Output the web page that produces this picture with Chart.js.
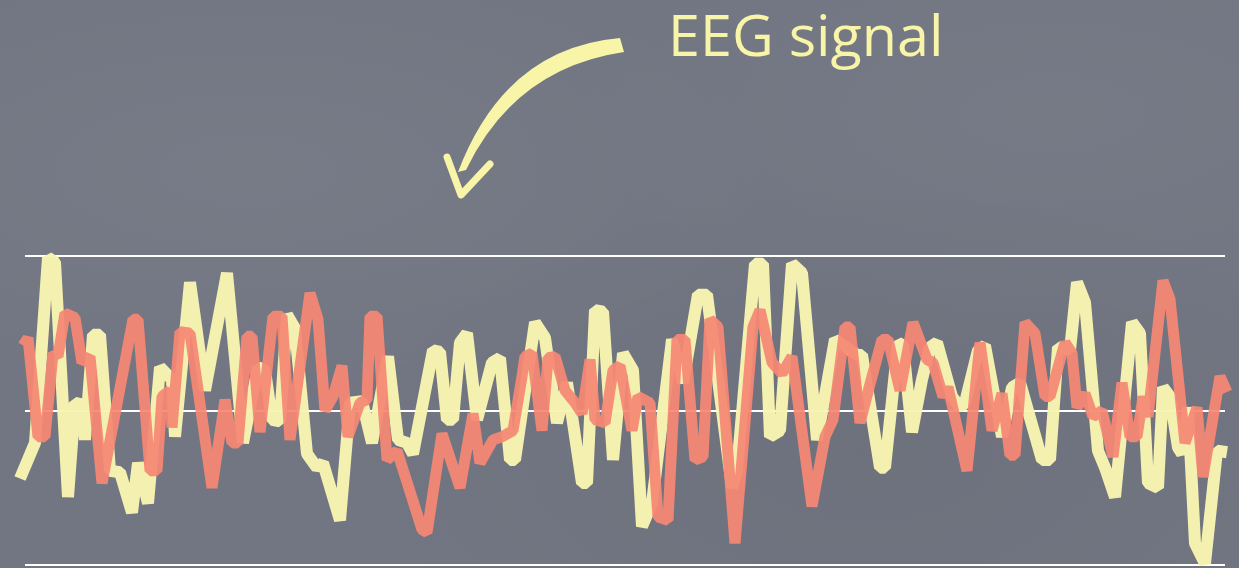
<!DOCTYPE html>
<html>
<head>
<meta charset="utf-8">
<script src="https://cdn.jsdelivr.net/npm/chart.js@4.4.1/dist/chart.umd.min.js"></script>
<style>
  html, body { margin:0; padding:0; width:1239px; height:568px; overflow:hidden; }
  body {
    background-color:#727682;
    background-image:
      radial-gradient(ellipse at 20% 30%, rgba(255,255,255,0.04), rgba(255,255,255,0) 40%),
      radial-gradient(ellipse at 70% 80%, rgba(0,0,0,0.04), rgba(0,0,0,0) 45%),
      radial-gradient(ellipse at 85% 20%, rgba(255,255,255,0.03), rgba(255,255,255,0) 35%);
    position:relative;
  }
  #wrap { position:absolute; left:0; top:0; width:1239px; height:568px; }
  #title { position:absolute; left:668px; top:6px; font-family:'Open Sans', sans-serif; font-size:57.5px; line-height:1; color:#f8f4a8; white-space:nowrap; }
  #arrow { position:absolute; left:0; top:0; }
</style>
</head>
<body>
<div id="wrap"><canvas id="c" width="1239" height="568"></canvas></div>
<svg id="arrow" width="1239" height="568" viewBox="0 0 1239 568">
  <path d="M 620 38 Q 505 48 458 172 L 466 170 Q 515 68 624 52 Z" fill="#f8f4a8"/>
  <polyline points="447,157 461,195 490,164" fill="none" stroke="#f8f4a8" stroke-width="7" stroke-linecap="round" stroke-linejoin="round"/>
</svg>
<div id="title">EEG signal</div>
<script>
// Time axis in samples (0..1200), amplitude normalised to [-1, 1]
const yellowTime = [-5,10,23,30,43,50,57,60,68,75,85,95,107,113,123,135,147,150,165,180,202,218,233,240,247,255,262,270,282,292,298,315,325,337,347,363,373,382,388,408,415,422,428,435,442,452,467,475,485,490,510,520,532,542,557,562,570,578,588,598,608,617,627,647,658,673,682,707,712,730,738,745,755,767,777,792,810,832,837,855,860,873,878,887,897,905,912,927,935,940,953,960,977,987,995,1017,1025,1033,1045,1052,1060,1073,1080,1090,1107,1115,1123,1133,1138,1145,1153,1157,1163,1170,1180,1192,1202];
const yellowValues = [-0.44,-0.21,0.99,0.96,-0.56,0.05,0.04,-0.19,0.49,0.49,-0.39,-0.40,-0.66,-0.34,-0.60,0.28,0.20,-0.17,0.83,0.13,0.89,-0.21,0.28,0.26,-0.06,-0.07,0.62,0.53,-0.28,-0.37,-0.34,-0.71,0.05,0.06,-0.21,0.35,-0.19,-0.21,-0.28,0.39,0.38,-0.06,-0.06,0.44,0.50,-0.06,0.31,0.34,-0.32,-0.32,0.57,0.47,-0.08,0.18,-0.47,-0.47,0.65,0.64,-0.32,0.37,0.26,-0.75,-0.60,0.46,0.18,0.75,0.75,-0.50,-0.39,0.95,0.95,-0.17,-0.13,0.95,0.89,-0.19,0.46,0.36,0.36,-0.37,-0.37,0.44,0.42,-0.14,0.20,0.41,0.44,0.09,0.02,0.05,0.39,0.42,-0.17,0.15,0.18,-0.32,-0.32,0.41,0.39,0.83,0.70,-0.26,-0.37,-0.56,0.57,0.50,-0.47,-0.50,0.15,0.09,-0.24,-0.28,0.02,-0.86,-0.99,-0.26,-0.27];

const redTime = [-2,3,13,20,28,33,40,50,57,65,77,108,113,125,132,137,145,147,155,165,187,200,207,213,222,227,235,248,257,265,285,293,300,308,317,323,335,342,345,352,362,372,397,402,417,435,448,455,468,477,488,497,500,507,517,523,530,540,550,557,565,570,580,588,595,607,613,625,633,643,652,660,670,678,685,693,710,728,735,747,757,767,787,800,808,820,825,835,845,857,863,875,888,902,908,918,923,942,955,967,977,985,990,1000,1010,1020,1025,1040,1047,1052,1060,1068,1077,1088,1097,1105,1112,1118,1123,1138,1145,1160,1172,1178,1195,1202];
const redValues = [0.42,0.47,-0.17,-0.17,0.37,0.35,0.63,0.60,0.31,0.35,-0.47,0.59,0.59,-0.39,-0.39,0.09,0.13,-0.11,0.51,0.50,-0.50,0.07,-0.21,-0.21,0.48,0.48,-0.14,0.61,0.61,-0.19,0.76,0.59,0.00,0.09,0.29,-0.17,0.05,0.07,0.61,0.61,-0.32,-0.26,-0.77,-0.79,-0.15,-0.50,-0.02,-0.34,-0.19,-0.17,-0.13,0.22,0.35,0.37,-0.13,0.34,0.35,0.13,0.05,-0.02,0.33,-0.06,-0.08,0.26,0.29,-0.13,0.09,0.05,-0.69,-0.71,0.46,0.46,-0.32,-0.30,0.59,0.54,-0.86,0.54,0.65,0.31,0.24,0.35,-0.62,-0.17,-0.06,0.54,0.54,-0.08,0.17,0.46,0.46,0.13,0.57,0.33,0.31,0.09,0.15,-0.39,0.44,-0.13,0.11,-0.29,-0.29,0.57,0.50,0.09,0.09,0.44,0.37,0.02,0.11,-0.04,0.00,-0.30,0.18,-0.17,-0.17,0.09,-0.04,0.84,0.72,-0.21,0.02,-0.43,0.22,0.12];

const yTickValues = [-1, 0, 1];

const toPoints = (ts, vs) => ts.map((t, i) => ({ x: t, y: vs[i] }));

new Chart(document.getElementById('c'), {
  type: 'line',
  data: {
    datasets: [
      {
        label: 'EEG (red)',
        data: toPoints(redTime, redValues),
        borderColor: 'rgba(246,136,115,0.93)',
        borderWidth: 11,
        borderJoinStyle: 'bevel',
        pointRadius: 0,
        tension: 0,
        clip: false,
        order: 0
      },
      {
        label: 'EEG (yellow)',
        data: toPoints(yellowTime, yellowValues),
        borderColor: 'rgba(248,244,178,0.97)',
        borderWidth: 12,
        borderJoinStyle: 'bevel',
        pointRadius: 0,
        tension: 0,
        clip: false,
        order: 1
      }
    ]
  },
  options: {
    responsive: false,
    animation: false,
    layout: { padding: { left: 25, right: 14, top: 256, bottom: 3 } },
    plugins: { legend: { display: false }, tooltip: { enabled: false } },
    scales: {
      x: { type: 'linear', min: 0, max: 1200, display: false },
      y: {
        min: -1, max: 1,
        afterBuildTicks: s => { s.ticks = yTickValues.map(v => ({ value: v })); },
        afterFit: s => { s.width = 0; },
        ticks: { display: false },
        border: { display: false },
        grid: { color: '#ffffff', lineWidth: 2, drawTicks: false }
      }
    }
  }
});
</script>
</body>
</html>
